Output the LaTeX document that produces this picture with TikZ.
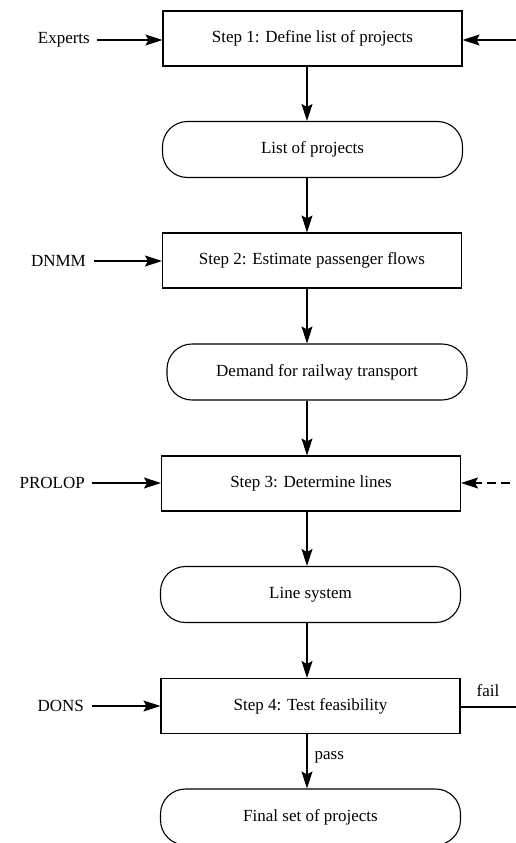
\documentclass[tikz,border=0pt]{standalone}
\usepackage{fontspec}
\setmainfont{Liberation Serif}
\usetikzlibrary{arrows.meta}
\begin{document}
\begin{tikzpicture}[x=1pt,y=-1pt,
  font=\fontsize{17}{19}\selectfont,
  stepbox/.style={draw, line width=1.1pt, minimum width=299pt, minimum height=55pt, inner sep=0pt},
  databox/.style={draw, line width=1.1pt, minimum width=300pt, minimum height=56pt, inner sep=0pt, rounded corners=25pt},
  arr/.style={line width=1.2pt, -{Stealth[length=17pt,width=11pt,inset=3pt]}},
  inlabel/.style={anchor=east, inner sep=3pt}
]
\useasboundingbox (0,0) rectangle (516,843);

% vertical axis of the main flow
\coordinate (axis) at (307,0);

% main flow: steps and their results
\node[stepbox] (s1) at (312.5,38.5) {Step 1: Define list of projects};
\node[databox] (l1) at (312.5,149.5) {List of projects};
\node[stepbox] (s2) at (312,260.5) {Step 2: Estimate passenger flows};
\node[databox] (d1) at (317,372) {Demand for railway transport};
\node[stepbox] (s3) at (311,483.5) {Step 3: Determine lines};
\node[databox] (ls) at (310.5,594.5) {Line system};
\node[stepbox] (s4) at (310.5,706) {Step 4: Test feasibility};
\node[databox] (fs) at (310.5,817) {Final set of projects};

% downward connectors
\draw[arr] (s1.south -| axis) -- (l1.north -| axis);
\draw[arr] (l1.south -| axis) -- (s2.north -| axis);
\draw[arr] (s2.south -| axis) -- (d1.north -| axis);
\draw[arr] (d1.south -| axis) -- (s3.north -| axis);
\draw[arr] (s3.south -| axis) -- (ls.north -| axis);
\draw[arr] (ls.south -| axis) -- (s4.north -| axis);
\draw[arr] (s4.south -| axis) -- node[right, pos=0.42, inner sep=7pt] {pass} (fs.north -| axis);

% inputs from the left
\node[inlabel] (ex) at (93,40) {Experts};
\node[inlabel] (dn) at (89,261) {DNMM};
\node[inlabel] (pr) at (88,483) {PROLOP};
\node[inlabel] (dc) at (87,706) {DONS};
\draw[arr] (ex.east) ++(4,0) -- (ex.east -| s1.west);
\draw[arr] (dn.east) ++(5,0) -- (dn.east -| s2.west);
\draw[arr] (pr.east) ++(4,0) -- (pr.east -| s3.west);
\draw[arr] (dc.east) ++(5,0) -- (dc.east -| s4.west);

% feedback entering from the right
\coordinate (r1) at (516,40);
\coordinate (r3) at (510,483);
\draw[arr] (r1) -- (r1 -| s1.east);
\draw[arr, dash pattern=on 9pt off 5pt] (r3) -- (r3 -| s3.east);

% failure exit
\coordinate (f4) at (516,707);
\draw[line width=1.1pt] (f4 -| s4.east) -- (f4);
\node (fl) at (488,691) {fail};
\end{tikzpicture}
\end{document}
